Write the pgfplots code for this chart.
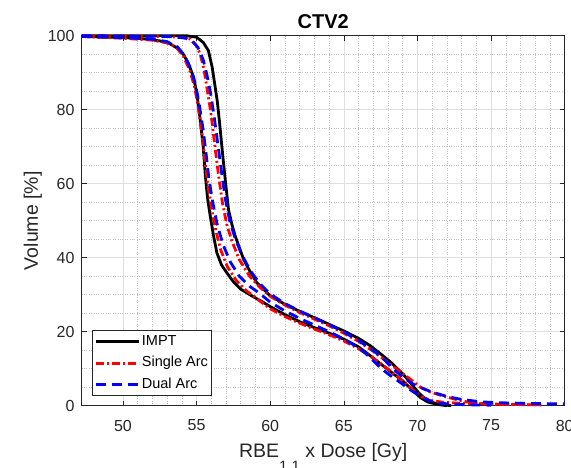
\documentclass[border=0pt]{standalone}
\usepackage{pgfplots}
\pgfplotsset{compat=1.18}
\usepackage{fontspec}
\setmainfont{Liberation Sans}
\definecolor{axgray}{RGB}{38,38,38}
\definecolor{gridgray}{RGB}{223,223,223}
\definecolor{minorgray}{RGB}{190,190,190}
\begin{document}
\begin{tikzpicture}
\begin{axis}[
  scale only axis, width=483pt, height=370pt,
  xmin=47.2, xmax=80, ymin=0, ymax=100,
  xtick={50,55,...,80}, ytick={0,20,...,100},
  minor x tick num=4, minor y tick num=3,
  grid=both,
  major grid style={gridgray, line width=0.6pt},
  minor grid style={minorgray, dotted, line width=0.6pt},
  tick align=inside, major tick length=5pt, minor tick length=0pt,
  axis line style={axgray, line width=0.6pt},
  tick style={axgray, line width=0.6pt},
  ticklabel style={font=\fontsize{16}{16}\selectfont, text=axgray},
  /pgf/number format/assume math mode=true,
  xticklabel style={yshift=-10.7pt},
  yticklabel style={xshift=-3.7pt},
  clip=false,
  title={CTV2},
  title style={font=\bfseries\fontsize{20}{20}\selectfont, text=black, at={(axis description cs:0.5,1)}, anchor=base, yshift=1pt},
  xlabel={RBE\raisebox{-14pt}{\fontsize{15}{15}\selectfont 1.1} x Dose [Gy]},
  every axis x label/.style={font=\fontsize{19.5}{19.5}\selectfont, text=axgray, inner sep=0pt, at={([yshift=-51.3pt]axis description cs:0.5,0)}, anchor=base},
  ylabel={Volume [\%]},
  every axis y label/.style={font=\fontsize{19.5}{19.5}\selectfont, text=axgray, inner sep=0pt, at={([xshift=-43.7pt]axis description cs:0,0.5)}, rotate=90, anchor=base},
  legend style={at={(axis description cs:0,0)}, anchor=south west, xshift=10.6pt, yshift=9.7pt,
    draw=axgray, line width=0.6pt, fill=white, font=\fontsize{14.5}{14.5}\selectfont,
    inner xsep=2pt, inner ysep=2.5pt, row sep=3.8pt,
    nodes={inner xsep=1.5pt, inner ysep=2pt, text height=10.5pt, text depth=3pt}},
  legend cell align=left,
  legend image code/.code={\draw[#1] (0pt,0pt) -- (43pt,0pt);},
]
% IMPT
\addplot[black, line width=2.8pt] coordinates {
(47.2,100) (54.3,100) (55,99.6) (55.45,98.2) (55.8,96) (56.06,91.5) (56.25,86.5) (56.4,82.5) (56.55,77) (56.72,70) (56.95,61) (57.17,53) (57.4,49) (57.63,45.8) (58.2,39.5) (58.6,36.5) (59.1,33.2) (60,29.7) (61,27.4) (62,25.5) (63,23.8) (64,22) (65,20.2) (66,18.2) (66.8,16.2) (67.5,14) (68.2,11.7) (68.8,9.4) (69.3,7.3) (69.7,5.3) (70.1,3.4) (70.5,2) (71,0.9) (71.6,0.3) (72.3,0)
};
\addlegendentry{IMPT}
\addplot[black, line width=2.8pt, forget plot] coordinates {
(47.2,99.8) (49,99.6) (50.5,99.4) (51.6,99.1) (52.5,98.6) (53.2,97.8) (53.7,96.6) (54.1,95) (54.45,92.5) (54.8,88.8) (55.05,83.5) (55.25,77.2) (55.45,70) (55.6,62) (55.75,56) (55.93,51.2) (56.15,46) (56.38,41.3) (56.7,38) (57.06,35.9) (57.5,33.5) (58,31.5) (58.7,29.8) (59.5,28) (60,26.8) (61,24.6) (62,22.7) (63,21.1) (64,19.6) (65,18) (66,15.9) (66.8,13.5) (67.6,11) (68.4,8.5) (69,6.7) (69.5,4.8) (70.2,2.2) (70.7,1) (71.3,0.4) (72,0)
};
% Single Arc
\addplot[red, line width=2.8pt, dash pattern=on 8pt off 3pt on 2pt off 3pt] coordinates {
(47.2,100) (53,99.8) (54,99.5) (54.56,99.1) (54.95,97.5) (55.25,95) (55.5,91) (55.7,86) (55.9,81) (56.04,77) (56.25,70) (56.5,62) (56.75,55) (57.05,49) (57.4,44.5) (57.9,39.5) (58.6,35) (59.3,32) (60,29.6) (61,27.2) (62,25.2) (63,23.4) (64,21.6) (65,19.6) (66,17.4) (67,14.7) (68,11.7) (68.9,9) (69.6,6.9) (70.2,5) (70.8,3.8) (71.6,2.8) (72.5,1.8) (73.4,1) (74.3,0.6) (75.5,0.4) (77,0.3) (78.5,0.2)
};
\addlegendentry{Single Arc}
\addplot[red, line width=2.8pt, dash pattern=on 8pt off 3pt on 2pt off 3pt, forget plot] coordinates {
(47.2,99.8) (50,99.3) (52,98.8) (53,98.1) (53.6,97) (54.1,94.5) (54.5,91) (54.85,86.5) (55.1,81) (55.35,74) (55.55,67) (55.75,60) (56,53.5) (56.3,47.5) (56.65,42) (57.1,37.5) (57.7,33.8) (58.4,31) (59.2,28.6) (60,26.2) (61,24.1) (62,22.3) (63,20.7) (64,19.2) (65,17.5) (66,15.4) (67,12.8) (67.8,10.5) (68.5,8.3) (69.2,6) (69.8,3.9) (70.3,2.4) (70.9,1.4) (71.8,0.9) (72.7,0.7) (75,0.45) (77,0.3) (78.5,0.25)
};
% Dual Arc
\addplot[blue, line width=2.8pt, dash pattern=on 10pt off 6pt] coordinates {
(47.2,100) (53,99.8) (54.2,99.4) (54.7,98.6) (55.1,96.8) (55.45,93.5) (55.7,89.5) (55.95,84.5) (56.2,78) (56.45,70.5) (56.7,63) (56.95,56) (57.25,50) (57.6,45.5) (58.05,41) (58.65,36.5) (59.3,33) (60,30.2) (61,27.6) (62,25.6) (63,23.8) (64,21.9) (65,19.9) (66,17.6) (67,14.9) (67.7,12.6) (68.4,9.8) (69,7.7) (69.8,5.6) (70.9,3.8) (72,2.5) (73,1.7) (74.3,1.05) (75.5,0.8) (76.6,0.7) (78.5,0.55) (80,0.5)
};
\addlegendentry{Dual Arc}
\addplot[blue, line width=2.8pt, dash pattern=on 10pt off 6pt, forget plot] coordinates {
(47.2,99.8) (50,99.5) (52,99.05) (53,98.4) (53.7,97) (54.2,94.5) (54.6,91) (54.95,86.5) (55.2,81) (55.45,74.5) (55.65,68) (55.85,61) (56.1,55) (56.4,49) (56.8,43.5) (57.3,38.8) (57.9,35) (58.6,32.3) (59.3,30.3) (60,28) (61,25.6) (62,23.6) (63,21.8) (64,20) (65,18) (66,15.7) (66.6,13.7) (67.1,11.8) (67.5,10.2) (68,8.6) (68.4,7.5) (69,5.8) (69.55,4.2) (70.2,2.5) (70.8,1.4) (71.5,0.7) (72.5,0.35) (74,0.2) (75,0.15)
};
\end{axis}
\pgfresetboundingbox
\useasboundingbox (-81.7pt,-61.3pt) rectangle (489.3pt,405.7pt);
\end{tikzpicture}
\end{document}
